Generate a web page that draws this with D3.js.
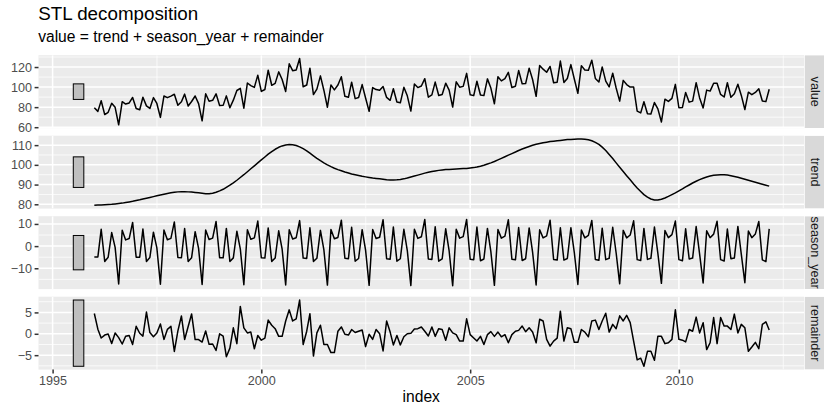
<!DOCTYPE html>
<html>
<head>
<meta charset="utf-8">
<script src="https://cdn.jsdelivr.net/npm/d3@7"></script>
<style>
  html, body { margin: 0; padding: 0; background: #ffffff; }
  svg { display: block; font-family: "Liberation Sans", Arial, Helvetica, sans-serif; }
</style>
</head>
<body>
<svg id="chart" width="824" height="406"></svg>
<script>
// Monthly series starting January 1996
const firstYear = 1996;
const firstMonth = 0;

const value = [
  79.35, 75.78, 86.32, 72.60, 74.86, 83.81, 79.80, 62.41, 85.41, 83.11, 84.21, 89.70,
  78.64, 77.42, 89.86, 81.27, 78.68, 89.51, 83.67, 69.80, 91.09, 89.43, 91.04, 92.87,
  81.87, 85.36, 92.98, 81.09, 85.64, 91.14, 83.46, 66.37, 93.34, 85.93, 86.81, 93.30,
  81.59, 81.77, 91.24, 79.45, 86.99, 96.60, 98.8, 79.0, 104.1, 101.5, 99.7, 111.9,
  95.7, 97.6, 116.8, 101.8, 103.7, 115.2, 107.6, 95.6, 123.3, 116.4, 117.1, 128.5,
  100.3, 102.1, 118.9, 92.5, 98.0, 111.2, 96.9, 79.9, 102.2, 97.2, 102.1, 110.3,
  90.8, 89.9, 104.9, 88.5, 89.6, 102.5, 89.1, 75.8, 99.5, 97.5, 96.9, 100.6,
  89.7, 86.8, 98.3, 85.2, 84.3, 99.8, 91.3, 76.1, 103.0, 99.5, 101.1, 108.4,
  89.9, 92.2, 105.0, 91.6, 92.6, 103.9, 96.9, 80.1, 105.3, 99.9, 100.7, 113.7,
  92.3, 91.5, 105.8, 92.1, 91.5, 108.2, 99.0, 83.4, 110.4, 106.2, 108.4, 114.7,
  99.6, 100.9, 116.5, 103.3, 103.5, 118.9, 107.6, 90.8, 121.6, 117.9, 114.8, 120.6,
  104.3, 104.9, 126.0, 104.6, 108.6, 122.4, 108.1, 93.8, 121.4, 117.1, 116.8, 126.8,
  108.6, 105.0, 120.1, 106.0, 100.2, 113.9, 99.1, 86.0, 106.7, 102.5, 100.0, 100.0,
  76.1, 74.3, 85.3, 73.5, 73.1, 84.6, 78.3, 65.2, 87.9, 85.7, 88.8, 102.7,
  79.4, 79.7, 94.7, 85.0, 86.0, 104.4, 89.2, 79.2, 97.0, 96.0, 103.9, 103.8,
  92.7, 90.1, 104.3, 89.8, 93.3, 102.8, 91.7, 77.6, 94.9, 92.4, 94.7, 98.3,
  86.2, 85.5, 97.9
];

const trend = [
  79.5, 79.6, 79.7, 79.8, 79.9, 80.0, 80.2, 80.4, 80.6, 80.9, 81.2, 81.5,
  81.9, 82.3, 82.7, 83.1, 83.5, 83.9, 84.3, 84.7, 85.1, 85.5, 85.8, 86.1,
  86.3, 86.4, 86.4, 86.3, 86.2, 86.0, 85.8, 85.6, 85.4, 85.4, 85.6, 86.1,
  86.8, 87.6, 88.6, 89.7, 90.9, 92.2, 93.6, 95.0, 96.5, 98.0, 99.5, 101.0,
  102.5, 104.0, 105.4, 106.7, 107.9, 108.9, 109.6, 110.1, 110.3, 110.2, 109.8, 109.1,
  108.2, 107.1, 105.9, 104.6, 103.3, 102.1, 101.0, 100.0, 99.1, 98.3, 97.6, 97.0,
  96.4, 95.9, 95.4, 95.0, 94.6, 94.2, 93.9, 93.6, 93.3, 93.1, 92.9, 92.7,
  92.4, 92.3, 92.3, 92.4, 92.6, 92.9, 93.3, 93.8, 94.3, 94.8, 95.3, 95.8,
  96.2, 96.6, 96.9, 97.2, 97.4, 97.6, 97.7, 97.8, 97.9, 98.0, 98.1, 98.2,
  98.4, 98.6, 98.9, 99.3, 99.8, 100.4, 101.0, 101.7, 102.5, 103.3, 104.1, 104.9,
  105.7, 106.5, 107.3, 108.0, 108.7, 109.3, 109.9, 110.4, 110.8, 111.2, 111.5, 111.8,
  112.0, 112.2, 112.4, 112.6, 112.8, 112.9, 113.0, 113.1, 113.1, 113.0, 112.7, 112.2,
  111.4, 110.4, 109.0, 107.3, 105.3, 103.2, 101.0, 98.8, 96.6, 94.5, 92.4, 90.3,
  88.3, 86.5, 84.9, 83.6, 82.7, 82.2, 82.2, 82.6, 83.2, 84.0, 84.9, 85.8,
  86.8, 87.8, 88.8, 89.8, 90.8, 91.7, 92.5, 93.2, 93.8, 94.3, 94.7, 94.9,
  95.0, 95.0, 94.8, 94.5, 94.1, 93.7, 93.2, 92.7, 92.2, 91.7, 91.2, 90.7,
  90.2, 89.7, 89.2
];

const season_year = [
  -4.9, -4.9, 7.6, -6.9, -5.0, 6.1, -0.6, -17.1, 7.2, 2.8, 3.4, 10.7,
  -5.0, -5.0, 7.7, -6.9, -5.1, 6.3, -0.8, -17.2, 7.3, 2.9, 3.5, 10.9,
  -5.1, -5.2, 7.9, -6.9, -5.2, 6.5, -1.0, -17.3, 7.3, 3.0, 3.6, 11.1,
  -5.2, -5.3, 8.0, -6.9, -5.3, 6.7, -1.2, -17.4, 7.4, 3.1, 3.7, 11.3,
  -5.3, -5.4, 8.2, -6.9, -5.4, 6.9, -1.4, -17.5, 7.4, 3.2, 3.8, 11.5,
  -5.4, -5.6, 8.3, -6.9, -5.5, 7.1, -1.6, -17.6, 7.5, 3.3, 3.9, 11.7,
  -5.5, -5.7, 8.5, -6.8, -5.6, 7.4, -1.8, -17.7, 7.5, 3.4, 4.0, 11.9,
  -5.7, -5.9, 8.6, -6.8, -5.7, 7.6, -2.0, -17.8, 7.6, 3.5, 4.2, 12.0,
  -5.8, -6.0, 8.7, -6.8, -5.8, 7.8, -2.2, -17.9, 7.6, 3.6, 4.3, 12.0,
  -5.9, -6.1, 8.6, -6.6, -5.8, 8.0, -2.5, -17.7, 7.5, 3.6, 4.5, 11.9,
  -5.9, -6.2, 8.4, -6.5, -5.7, 8.2, -2.7, -17.5, 7.4, 3.7, 4.6, 11.7,
  -6.0, -6.3, 8.3, -6.3, -5.6, 8.3, -2.9, -17.3, 7.3, 3.7, 4.8, 11.6,
  -6.0, -6.4, 8.1, -6.1, -5.5, 8.5, -3.1, -17.0, 7.1, 3.7, 5.0, 11.4,
  -6.1, -6.5, 8.0, -6.0, -5.5, 8.6, -3.3, -16.8, 7.0, 3.8, 5.2, 11.3,
  -6.1, -6.6, 7.8, -5.8, -5.4, 8.8, -3.5, -16.6, 6.9, 3.8, 5.4, 11.2,
  -6.1, -6.7, 7.7, -5.7, -5.4, 8.9, -3.7, -16.5, 6.8, 3.8, 5.5, 11.1,
  -6.2, -7.0, 7.8
];

const remainder = [
  4.75, 1.08, -0.98, -0.30, -0.04, -2.29, 0.20, -0.89, -2.39, -0.59, -0.39, -2.50,
  1.74, 0.12, -0.54, 5.07, 0.28, -0.69, 0.17, 2.30, -1.31, 1.03, 1.74, -4.13,
  0.67, 4.16, -1.32, 1.69, 4.64, -1.36, -1.34, -1.93, 0.64, -2.47, -2.39, -3.90,
  -0.01, -0.53, -5.36, -3.35, 1.39, -2.30, 6.4, 1.4, 0.2, 0.4, -3.5, -0.4,
  -1.5, -1.0, 3.2, 2.0, 1.2, -0.6, -0.6, 3.0, 5.6, 3.0, 3.5, 7.9,
  -2.5, 0.6, 4.7, -5.2, 0.2, 2.0, -2.5, -2.5, -4.4, -4.4, 0.6, 1.6,
  -0.1, -0.3, 1.0, 0.3, 0.6, 0.9, -3.0, -0.1, -1.3, 1.0, 0.0, -4.0,
  3.0, 0.4, -2.6, -0.4, -2.6, -0.7, 0.0, 0.1, 1.1, 1.2, 1.6, 0.6,
  -0.5, 1.6, -0.6, 1.2, 1.0, -1.5, 1.4, 0.2, -0.2, -1.7, -1.7, 3.5,
  -0.2, -1.0, -1.7, -0.6, -2.5, -0.2, 0.5, -0.6, 0.4, -0.7, -0.2, -2.1,
  -0.2, 0.6, 0.8, 1.8, 0.5, 1.4, 0.4, -2.1, 3.4, 3.0, -1.3, -2.9,
  -1.7, -1.0, 5.3, -1.7, 1.4, 1.2, -2.0, -2.0, 1.0, 0.4, -0.7, 3.0,
  3.2, 1.0, 3.0, 4.8, 0.4, 2.2, 1.2, 4.2, 3.0, 4.3, 2.6, -1.7,
  -6.1, -5.7, -7.6, -4.1, -4.1, -6.2, -0.6, -0.6, -2.3, -2.1, -1.3, 5.6,
  -1.3, -1.5, -1.9, 1.0, 0.6, 3.9, 0.2, 2.6, -3.7, -2.1, 3.8, -2.3,
  3.8, 1.8, 1.8, 1.0, 4.6, 0.2, 2.2, 1.4, -4.1, -3.1, -2.0, -3.5,
  2.2, 2.8, 0.9
];

const componentNames = ["value", "trend", "season_year", "remainder"];
const xTickYears = [1995, 2000, 2005, 2010];
const valueTicks = [60, 80, 100, 120];
const trendTicks = [80, 90, 100, 110];
const seasonTicks = [-10, 0, 10];
const remainderTicks = [-5, 0, 5];

const titleText = "STL decomposition";
const subtitleText = "value = trend + season_year + remainder";
const xAxisTitle = "index";

// ---- layout ----
const W = 824, H = 406;
const left = 38.5, right = 804;
const panelTop = 55.2, panelH = 72.9, panelGap = 7.6;
const stripW = 21;

const series = [value, trend, season_year, remainder];
const tickSets = [valueTicks, trendTicks, seasonTicks, remainderTicks];

const n = value.length;
const dates = value.map((_, i) => new Date(firstYear, firstMonth + i, 1));

// scale bars sit a few months before the first observation
const barStart = new Date(firstYear, firstMonth - 6, 1);
const barEnd = new Date(firstYear, firstMonth - 3, 1);

const xLo = +barStart, xHi = +dates[n - 1];
const xPad = 0.05 * (xHi - xLo);
const x = d3.scaleTime()
  .domain([new Date(xLo - xPad), new Date(xHi + xPad)])
  .range([left, right]);

const svg = d3.select("#chart");
svg.append("rect").attr("width", W).attr("height", H).attr("fill", "#ffffff");

// titles
svg.append("text").attr("x", left - 0.3).attr("y", 19.6)
  .attr("font-size", 18.8).attr("fill", "#000").text(titleText);
svg.append("text").attr("x", left - 0.3).attr("y", 42.2)
  .attr("font-size", 15.6).attr("fill", "#000").text(subtitleText);

// shared height of the scale bars = smallest component range
const ranges = series.map(s => d3.extent(s));
const minSpan = d3.min(ranges, r => r[1] - r[0]);

// vertical grid positions
const majorX = xTickYears.map(y => new Date(y, 0, 1));
const stepYears = xTickYears[1] - xTickYears[0];
const extMajorX = [new Date(xTickYears[0] - stepYears, 0, 1), ...majorX,
                   new Date(xTickYears[xTickYears.length - 1] + stepYears, 0, 1)];
const minorX = d3.pairs(extMajorX).map(([a, b]) => new Date((+a + +b) / 2))
  .filter(d => d >= x.domain()[0] && d <= x.domain()[1]);

const line = d3.line();
const defs = svg.append("defs");

series.forEach((s, k) => {
  const top = panelTop + k * (panelH + panelGap);
  const bottom = top + panelH;
  const [mn, mx] = ranges[k];
  const pad = 0.05 * (mx - mn);
  const y = d3.scaleLinear().domain([mn - pad, mx + pad]).range([bottom, top]);
  const ticks = tickSets[k];
  const step = ticks[1] - ticks[0];
  const extTicks = [ticks[0] - step, ...ticks, ticks[ticks.length - 1] + step];
  const minorY = d3.pairs(extTicks).map(([a, b]) => (a + b) / 2)
    .filter(v => v >= y.domain()[0] && v <= y.domain()[1]);

  const clipId = "clip" + k;
  defs.append("clipPath").attr("id", clipId)
    .append("rect").attr("x", left).attr("y", top).attr("width", right - left).attr("height", panelH);

  const g = svg.append("g");
  g.append("rect").attr("x", left).attr("y", top).attr("width", right - left)
    .attr("height", panelH).attr("fill", "#EBEBEB");

  const grid = g.append("g").attr("clip-path", `url(#${clipId})`);
  grid.selectAll(".minx").data(minorX).join("line")
    .attr("x1", d => x(d)).attr("x2", d => x(d)).attr("y1", top).attr("y2", bottom)
    .attr("stroke", "#ffffff").attr("stroke-width", 0.75);
  grid.selectAll(".miny").data(minorY).join("line")
    .attr("x1", left).attr("x2", right).attr("y1", d => y(d)).attr("y2", d => y(d))
    .attr("stroke", "#ffffff").attr("stroke-width", 0.75);
  grid.selectAll(".majx").data(majorX).join("line")
    .attr("x1", d => x(d)).attr("x2", d => x(d)).attr("y1", top).attr("y2", bottom)
    .attr("stroke", "#ffffff").attr("stroke-width", 1.5);
  grid.selectAll(".majy").data(ticks).join("line")
    .attr("x1", left).attr("x2", right).attr("y1", d => y(d)).attr("y2", d => y(d))
    .attr("stroke", "#ffffff").attr("stroke-width", 1.5);

  // scale bar
  const mid = (mn + mx) / 2;
  grid.append("rect")
    .attr("x", x(barStart)).attr("width", x(barEnd) - x(barStart))
    .attr("y", y(mid + minSpan / 2)).attr("height", y(mid - minSpan / 2) - y(mid + minSpan / 2))
    .attr("fill", "#BFBFBF").attr("stroke", "#000").attr("stroke-width", 1);

  // component line
  grid.append("path")
    .attr("d", line(s.map((v, i) => [x(dates[i]), y(v)])))
    .attr("fill", "none").attr("stroke", "#000").attr("stroke-width", 1.5)
    .attr("stroke-linejoin", "round");

  // y axis
  const ay = g.append("g").attr("transform", `translate(${left},0)`)
    .call(d3.axisLeft(y).tickValues(ticks).tickSize(3.9).tickPadding(2.6).tickFormat(d3.format("d")));
  ay.select(".domain").remove();
  ay.selectAll(".tick line").attr("stroke", "#333333").attr("stroke-width", 1.5);
  ay.selectAll(".tick text").attr("fill", "#4D4D4D").attr("font-size", 12.6)
    .attr("font-family", "Liberation Sans, Arial, sans-serif");

  // strip
  const sClip = "sclip" + k;
  defs.append("clipPath").attr("id", sClip)
    .append("rect").attr("x", right + 0.5).attr("y", top).attr("width", stripW).attr("height", panelH);
  const sg = svg.append("g").attr("clip-path", `url(#${sClip})`);
  sg.append("rect").attr("x", right + 0.5).attr("y", top).attr("width", stripW).attr("height", panelH)
    .attr("fill", "#D9D9D9");
  sg.append("text")
    .attr("transform", `translate(${right + 10.5},${top + panelH / 2}) rotate(90)`)
    .attr("text-anchor", "middle").attr("dominant-baseline", "central")
    .attr("font-size", 12.6).attr("fill", "#1A1A1A").text(componentNames[k]);

  if (k === series.length - 1) {
    const ax = g.append("g").attr("transform", `translate(0,${bottom})`)
      .call(d3.axisBottom(x).tickValues(majorX).tickSize(3.9).tickPadding(2.4).tickFormat(d3.timeFormat("%Y")));
    ax.select(".domain").remove();
    ax.selectAll(".tick line").attr("stroke", "#333333").attr("stroke-width", 1.5);
    ax.selectAll(".tick text").attr("fill", "#4D4D4D").attr("font-size", 12.6)
      .attr("font-family", "Liberation Sans, Arial, sans-serif");
    svg.append("text").attr("x", (left + right) / 2).attr("y", 402)
      .attr("text-anchor", "middle").attr("font-size", 15.6).attr("fill", "#000").text(xAxisTitle);
  }
});
</script>
</body>
</html>
